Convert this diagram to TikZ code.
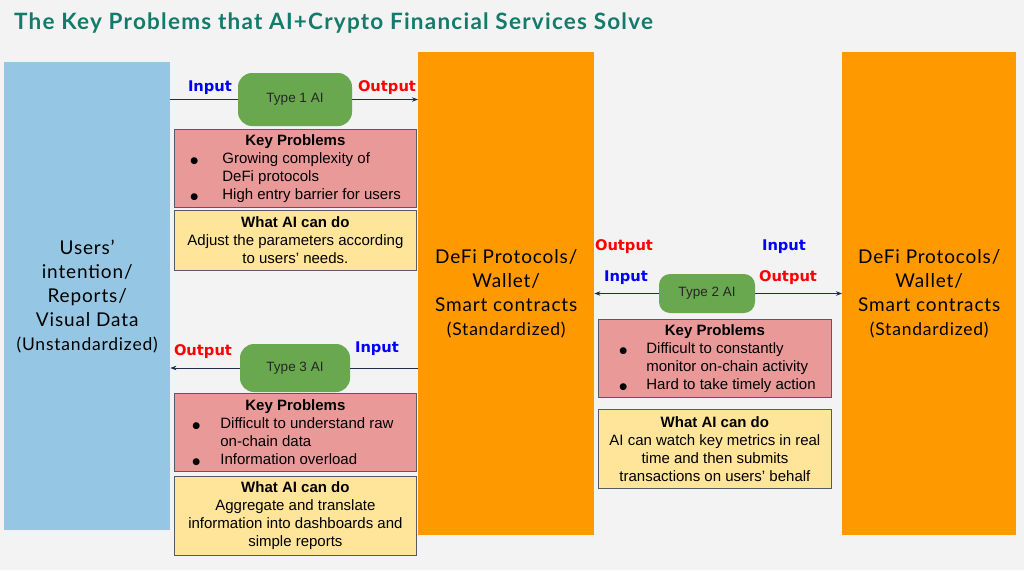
\documentclass[tikz,border=0pt]{standalone}
\usepackage{fontspec}
\setmainfont{Liberation Sans}
\newfontfamily\lato{Lato}[LetterSpace=4.5]
\newfontfamily\latot{Lato}[LetterSpace=5.5]
\newfontfamily\dvs{DejaVu Sans}
\usetikzlibrary{arrows.meta}
\definecolor{bgc}{HTML}{F3F3F3}
\definecolor{titlec}{HTML}{127B6B}
\definecolor{bluec}{HTML}{95C7E5}
\definecolor{orangec}{HTML}{FF9900}
\definecolor{greenc}{HTML}{6AA84F}
\definecolor{redc}{HTML}{EA9999}
\definecolor{yellowc}{HTML}{FFE599}
\definecolor{arrc}{HTML}{1F2D4D}
\definecolor{edgec}{HTML}{555B66}
\newcommand{\bul}{{\dvs\fontsize{9}{9}\selectfont ●}}
\newcommand{\kpline}[3]{\hspace*{#1}\makebox[#2][l]{\bul}#3\par}
\newcommand{\kpcont}[2]{\hspace*{#1}#2\par}
\pgfdeclarelayer{bg}
\pgfsetlayers{bg,main}
\tikzset{
  big/.style={anchor=north west, inner sep=0pt, align=center, text=black},
  bigfont/.style={font=\lato\fontsize{19}{24}\selectfont},
  aibox/.style={fill=greenc, rounded corners=14pt, inner sep=0pt, font=\fontsize{13.5}{16}\selectfont, text=black!85},
  kpbox/.style={anchor=north west, draw=edgec, line width=0.8pt, fill=redc, inner sep=0pt, font=\fontsize{15}{18}\selectfont},
  wabox/.style={anchor=north west, draw=edgec, line width=0.8pt, fill=yellowc, inner sep=0pt, font=\fontsize{15}{18}\selectfont},
  inlab/.style={font=\dvs\bfseries\fontsize{14.7}{16}\selectfont, text=blue, inner sep=0pt},
  outlab/.style={font=\dvs\bfseries\fontsize{14.7}{16}\selectfont, text=red, inner sep=0pt},
  arr/.style={draw=arrc, line width=0.8pt, -{Stealth[length=6pt,width=4.5pt]}},
  arrb/.style={draw=arrc, line width=0.8pt, {Stealth[length=6pt,width=4.5pt]}-{Stealth[length=6pt,width=4.5pt]}},
}
\begin{document}
\begin{tikzpicture}[x=1pt,y=-1pt]
\useasboundingbox (0,0) rectangle (1024,570);
\begin{pgfonlayer}{bg}
\fill[bgc] (0,0) rectangle (1024,570);
\end{pgfonlayer}
\node[anchor=base west, inner sep=0pt, text=titlec, font=\latot\bfseries\fontsize{22.5}{26}\selectfont] (title) at (14,29.5) {The Key Problems that AI+Crypto Financial Services Solve};

% big columns
\node[big, fill=bluec, minimum width=166pt, minimum height=468pt, bigfont] (users) at (4,62)
  {Users’\\intention/\\Reports/\\Visual Data\\{\fontsize{17.5}{22}\selectfont(Unstandardized)}};
\node[big, fill=orangec, minimum width=176pt, minimum height=483pt, bigfont] (prot1) at (418,52)
  {DeFi Protocols/\\Wallet/\\Smart contracts\\{\fontsize{17.5}{22}\selectfont(Standardized)}};
\node[big, fill=orangec, minimum width=174pt, minimum height=483pt, bigfont] (prot2) at (842,52)
  {DeFi Protocols/\\Wallet/\\Smart contracts\\{\fontsize{17.5}{22}\selectfont(Standardized)}};

% AI nodes
\node[aibox, minimum width=114pt, minimum height=53pt] (t1) at (295,99.5) {Type 1 AI};
\node[aibox, minimum width=96pt, minimum height=39pt, rounded corners=11pt] (t2) at (707,293.5) {Type 2 AI};
\node[aibox, minimum width=110pt, minimum height=48pt] (t3) at (295,368) {Type 3 AI};

% arrows
\begin{pgfonlayer}{bg}
\draw[arr] (t1 -| users.east) -- (t1 -| prot1.west);
\draw[arrb] (t2 -| prot1.east) -- (t2 -| prot2.west);
\draw[arr] (t3 -| prot1.west) -- (t3 -| users.east);
\end{pgfonlayer}

% labels
\node[inlab] (in1) at (210,88) {Input};
\node[outlab] (out1) at (387,88) {Output};
\node[outlab] (out2a) at (624,247) {Output};
\node[inlab] (in2a) at (784,247) {Input};
\node[inlab] (in2b) at (626,278) {Input};
\node[outlab] (out2b) at (788,278) {Output};
\node[outlab] (out3) at (203,352) {Output};
\node[inlab] (in3) at (377,349) {Input};

% Key problems 1
\node[kpbox, minimum width=242pt, minimum height=78pt] (kp1) at (174,129) {\begin{minipage}{242pt}
\centering\textbf{Key Problems}\par\raggedright
\kpline{16pt}{32pt}{Growing complexity of}
\kpcont{48pt}{DeFi protocols}
\kpline{16pt}{32pt}{High entry barrier for users}
\end{minipage}};
\node[wabox, minimum width=242pt, minimum height=60pt, align=center] (wa1) at (174,210)
  {\textbf{What AI can do}\\Adjust the parameters according\\to users’ needs.};

% Key problems 2
\node[kpbox, minimum width=233pt, minimum height=78pt] (kp2) at (598,319) {\begin{minipage}{233pt}
\centering\textbf{Key Problems}\par\raggedright
\kpline{21pt}{27pt}{Difficult to constantly}
\kpcont{48pt}{monitor on-chain activity}
\kpline{21pt}{27pt}{Hard to take timely action}
\end{minipage}};
\node[wabox, minimum width=233pt, minimum height=79pt, align=center] (wa2) at (598,409)
  {\textbf{What AI can do}\\AI can watch key metrics in real\\time and then submits\\transactions on users’ behalf};

% Key problems 3
\node[kpbox, minimum width=242pt, minimum height=78pt] (kp3) at (174,393) {\begin{minipage}{242pt}
\centering\textbf{Key Problems}\par\raggedright
\kpline{18pt}{28pt}{Difficult to understand raw}
\kpcont{46pt}{on-chain data}
\kpline{18pt}{28pt}{Information overload}
\end{minipage}};
\node[wabox, minimum width=242pt, minimum height=79pt, align=center] (wa3) at (174,476)
  {\textbf{What AI can do}\\Aggregate and translate\\information into dashboards and\\simple reports};
\end{tikzpicture}
\end{document}
